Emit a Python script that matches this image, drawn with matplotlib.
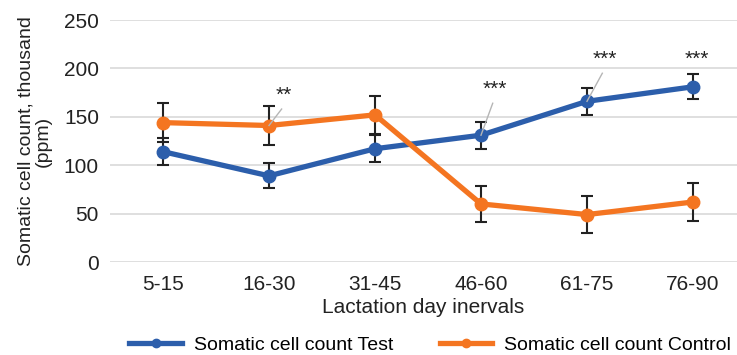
import numpy as np
import matplotlib.pyplot as plt
from matplotlib.lines import Line2D

intervals = ['5-15', '16-30', '31-45', '46-60', '61-75', '76-90']
test_scc = [114, 89, 117, 131, 166, 181]
test_err = [14, 13, 14, 14, 14, 13]
control_scc = [144, 141, 152, 60, 49, 62]
control_err = [20, 20, 20, 19, 19, 20]
signif = ['', '**', '', '***', '***', '***']
# where each star label sits, as (x offset, y value)
star_pos = [None, (0.14, 172), None, (0.13, 178), (0.17, 209), (0.04, 209)]
leader = [False, True, False, True, True, False]

plt.rcParams['font.family'] = ['Liberation Sans', 'DejaVu Sans']

blue = '#2c5eab'
orange = '#f47521'
txt = '#222222'

fig = plt.figure(figsize=(7.37, 3.55), dpi=100)
ax = fig.add_axes([110/737, 1-262/355, 1-110/737, (262-20)/355])

x = np.arange(len(intervals))
ax.errorbar(x, test_scc, yerr=test_err, color=blue, lw=3.8, marker='o', ms=9,
            ecolor=txt, elinewidth=1.5, capsize=4.5, capthick=1.5, zorder=3)
ax.errorbar(x, control_scc, yerr=control_err, color=orange, lw=3.8, marker='o', ms=9,
            ecolor=txt, elinewidth=1.5, capsize=4.5, capthick=1.5, zorder=3)

# significance stars with leader lines
for i, s in enumerate(signif):
    if not s:
        continue
    dx, ty = star_pos[i]
    ax.text(i + dx, ty, s, ha='center', va='center', fontsize=15, color=txt)
    if leader[i]:
        py = max(test_scc[i], control_scc[i]) if i == 1 else test_scc[i]
        ax.plot([i, i + dx * 0.85], [py, ty - 14], color='#b5b5b5', lw=1, zorder=4)

ax.set_xlim(-0.5, 5.415)
ax.set_ylim(0, 250)
ax.set_yticks(range(0, 251, 50))
ax.set_xticks(x)
ax.set_xticklabels(intervals)
ax.grid(axis='y', color='#d9d9d9', lw=1.2)
ax.set_axisbelow(True)
for sp in ax.spines.values():
    sp.set_visible(False)
ax.tick_params(length=0, labelsize=15, colors=txt, pad=8)
ax.tick_params(axis='x', pad=9)
ax.set_xlabel('Lactation day inervals', fontsize=15, color=txt, labelpad=3)
ax.set_ylabel('Somatic cell count, thousand\n(ppm)', fontsize=14, color=txt,
              linespacing=1.0, labelpad=9)

handles = [Line2D([], [], color=blue, lw=3.8, marker='o', ms=6),
           Line2D([], [], color=orange, lw=3.8, marker='o', ms=6)]
fig.legend(handles, ['Somatic cell count Test', 'Somatic cell count Control'],
           loc='center', bbox_to_anchor=(430/737, 1-345/355), ncol=2, frameon=False,
           fontsize=14, handlelength=2.7, columnspacing=2.4, handletextpad=0.6)

fig.savefig('out.png', dpi=100)
